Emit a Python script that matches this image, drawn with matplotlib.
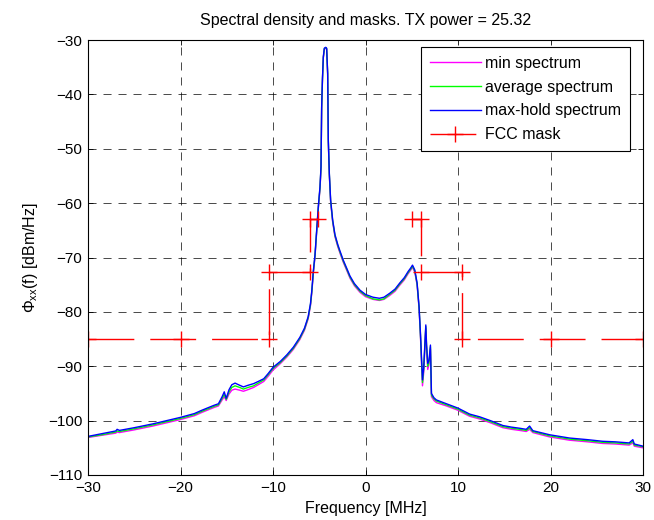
import numpy as np
import matplotlib
matplotlib.use('Agg')
import matplotlib.pyplot as plt

plt.rcParams['font.family'] = ['Liberation Sans', 'DejaVu Sans']
plt.rcParams['lines.scale_dashes'] = False

# Frequency grid (MHz)
freq = [-30.0, -28.5, -27.0, -26.85, -26.6, -25.0, -23.0, -21.5, -20.0, -18.5,
        -17.7, -16.4, -15.9, -15.5, -15.27, -15.06, -14.75, -14.45, -14.1, -13.6,
        -13.2, -12.7, -12.1, -11.6, -11.0, -10.5, -10.0, -9.2, -8.5, -7.8,
        -7.1, -6.6, -6.2, -5.95, -5.8, -5.64, -5.46, -5.3, -5.1, -4.92,
        -4.81, -4.74, -4.65, -4.56, -4.45, -4.3, -4.2, -4.09, -4.02, -3.91,
        -3.77, -3.55, -3.3, -3.0, -2.76, -2.4, -2.0, -1.68, -1.2, -0.6,
        0.0, 0.8, 1.5, 2.0, 2.6, 3.2, 3.7, 4.2, 4.6, 4.9,
        5.08, 5.33, 5.58, 5.79, 5.94, 6.16, 6.3, 6.52, 6.6, 6.73,
        6.87, 7.02, 7.13, 7.4, 7.67, 8.75, 10.0, 11.26, 12.34, 13.5,
        14.85, 15.8, 16.66, 17.38, 17.74, 18.09, 19.9, 22.05, 24.0, 25.64,
        27.0, 28.5, 28.9, 29.06, 30.0]

max_hold = [-102.9, -102.4, -101.9, -101.6, -101.8, -101.3, -100.6, -100.0, -99.4, -98.7,
            -98.1, -97.2, -96.9, -95.6, -94.7, -95.9, -94.3, -93.4, -93.1, -93.5,
            -93.8, -93.5, -93.2, -92.8, -92.3, -91.3, -90.2, -89.1, -87.9, -86.5,
            -84.7, -83.0, -80.9, -78.5, -76.0, -72.5, -69.5, -65.5, -60.6, -57.0,
            -53.3, -42.3, -37.0, -33.1, -31.5, -31.35, -31.5, -36.1, -48.4, -54.5,
            -59.4, -63.1, -65.8, -67.6, -68.8, -70.5, -72.1, -73.4, -74.8, -76.0,
            -76.8, -77.3, -77.5, -77.3, -76.6, -75.8, -74.7, -73.7, -72.6, -71.9,
            -71.4, -72.3, -74.7, -79.0, -83.9, -92.5, -90.0, -82.4, -86.0, -89.5,
            -88.9, -86.1, -95.0, -95.8, -96.2, -96.9, -97.7, -98.8, -99.3, -100.0,
            -100.9, -101.2, -101.4, -101.6, -101.0, -101.85, -102.6, -103.2, -103.5, -103.8,
            -103.9, -104.1, -103.5, -104.3, -104.7]

average = [-103.0, -102.6, -102.1, -101.9, -102.0, -101.5, -100.8, -100.2, -99.6, -98.9,
           -98.3, -97.4, -97.1, -95.9, -95.2, -96.1, -94.7, -93.9, -93.6, -93.9,
           -94.2, -93.9, -93.6, -93.1, -92.5, -91.5, -90.4, -89.3, -88.1, -86.7,
           -84.9, -83.2, -81.1, -78.7, -76.2, -72.7, -69.7, -65.7, -60.8, -57.2,
           -53.5, -42.5, -37.1, -33.2, -31.6, -31.4, -31.6, -36.2, -48.6, -54.7,
           -59.6, -63.3, -66.0, -67.8, -69.0, -70.7, -72.3, -73.6, -75.0, -76.2,
           -77.0, -77.6, -77.8, -77.6, -76.8, -76.0, -74.9, -73.9, -72.8, -72.1,
           -71.6, -72.5, -74.9, -79.2, -84.2, -93.0, -90.4, -82.7, -86.3, -90.0,
           -89.2, -86.4, -95.3, -96.0, -96.4, -97.1, -97.9, -99.0, -99.5, -100.2,
           -101.1, -101.4, -101.6, -101.8, -101.3, -102.0, -102.8, -103.4, -103.7, -104.0,
           -104.1, -104.3, -103.8, -104.5, -104.8]

minimum = [-103.1, -102.7, -102.3, -102.1, -102.2, -101.7, -101.0, -100.4, -99.8, -99.1,
           -98.5, -97.6, -97.3, -96.2, -95.6, -96.3, -95.1, -94.4, -94.2, -94.4,
           -94.6, -94.3, -93.9, -93.4, -92.8, -91.8, -90.7, -89.5, -88.3, -86.9,
           -85.1, -83.4, -81.3, -78.9, -76.4, -72.9, -69.9, -65.9, -61.0, -57.4,
           -53.7, -42.7, -37.2, -33.3, -31.7, -31.5, -31.7, -36.4, -48.8, -54.9,
           -59.8, -63.5, -66.2, -68.0, -69.2, -70.9, -72.5, -73.8, -75.2, -76.4,
           -77.2, -77.7, -77.9, -77.7, -77.0, -76.2, -75.1, -74.1, -73.0, -72.3,
           -71.8, -72.7, -75.1, -79.4, -84.5, -93.6, -91.0, -83.0, -86.8, -90.6,
           -89.6, -86.8, -95.6, -96.3, -96.7, -97.3, -98.1, -99.2, -99.7, -100.4,
           -101.3, -101.6, -101.8, -102.0, -101.6, -102.2, -103.0, -103.6, -103.9, -104.2,
           -104.3, -104.5, -104.1, -104.7, -105.0]

# FCC mask breakpoints (NaN = gap in the middle band)
mask_f = [-30, -20, -10.45, -10.45, -6.0, -6.0, -5.13, np.nan,
          5.02, 6.0, 6.0, 10.4, 10.4, 20, 30]
mask_db = [-85.0, -85.0, -85.0, -72.7, -72.7, -62.9, -62.9, np.nan,
           -62.9, -62.9, -72.7, -72.7, -85.0, -85.0, -85.0]

fig = plt.figure(figsize=(6.54, 5.20), dpi=100)
ax = fig.add_axes([88 / 654, 45 / 520, 555 / 654, 435 / 520])

ax.plot(freq, minimum, color='#ff00ff', lw=1.0, label='min spectrum')
ax.plot(freq, average, color='#00ff00', lw=1.0, label='average spectrum')
ax.plot(freq, max_hold, color='#0000ff', lw=1.0, label='max-hold spectrum')
ax.plot(mask_f, mask_db, color='#ff0000', lw=1.0, linestyle=(0, (33, 11.5)),
        marker='+', markersize=11, markeredgewidth=1.0, label='FCC mask')

ax.set_xlim(-30, 30)
ax.set_ylim(-110, -30)
ax.set_xticks(range(-30, 31, 10))
ax.set_yticks(range(-110, -29, 10))
ax.grid(True, color='black', linewidth=0.5, linestyle=(0, (5.8, 5)))
ax.tick_params(direction='in', top=True, right=True, length=3.5, width=0.6,
               labelsize=11, colors='black', pad=4)
for s in ax.spines.values():
    s.set_linewidth(0.8)

ax.set_title('Spectral density and masks. TX power = 25.32', fontsize=11.5, pad=11)
ax.set_xlabel('Frequency [MHz]', fontsize=11.5, labelpad=5)
ax.set_ylabel(r'$\mathregular{\Phi_{xx}}$(f) [dBm/Hz]', fontsize=11.5, labelpad=6)

leg = ax.legend(loc='upper right', bbox_to_anchor=(0.977, 0.984), fontsize=11.5,
                fancybox=False, framealpha=1, edgecolor='black',
                handlelength=3.2, labelspacing=0.55, borderpad=0.55,
                handletextpad=0.3, borderaxespad=0)
leg.get_frame().set_linewidth(0.8)

fig.savefig('out.png', dpi=100)
